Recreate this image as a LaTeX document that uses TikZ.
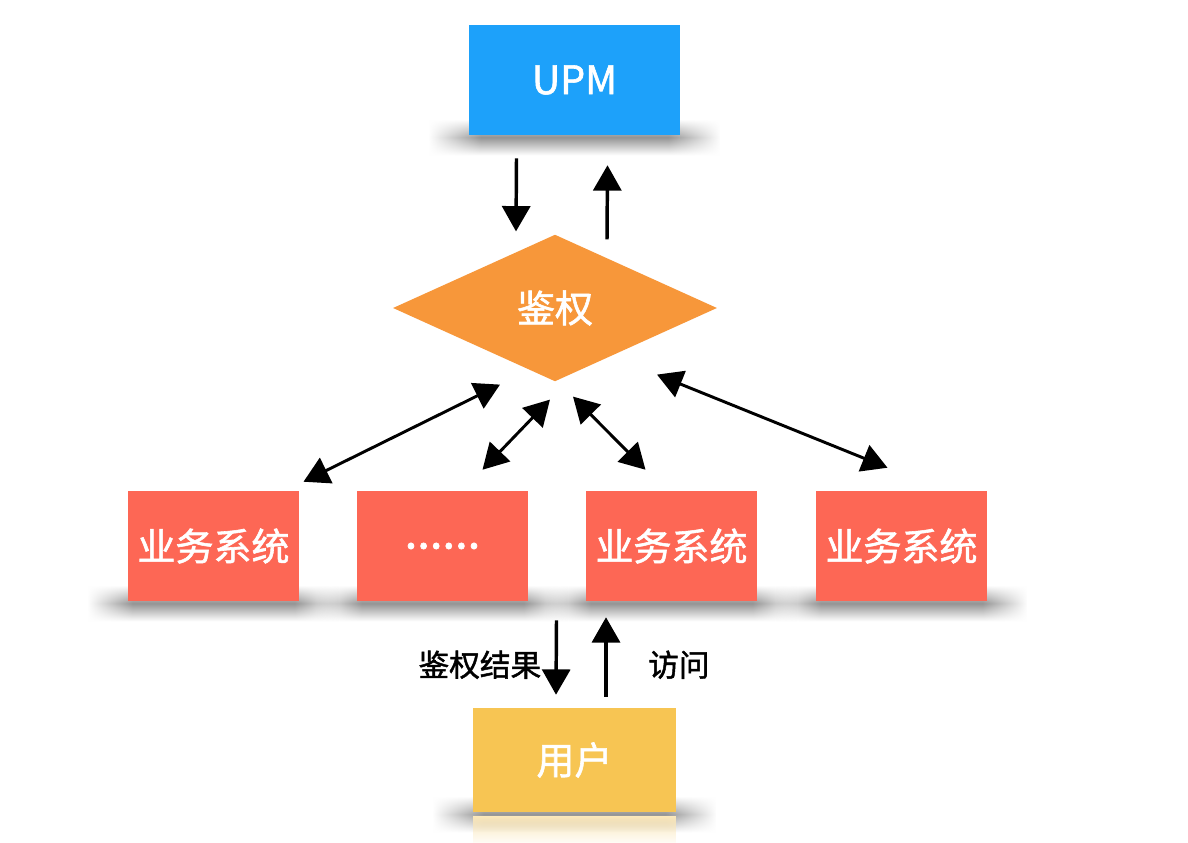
\documentclass[tikz,border=0pt]{standalone}
\usepackage{fontspec}
\setmainfont{Noto Sans CJK SC}
\newfontfamily\boxfont{Noto Sans CJK SC}[FakeBold=1.5]
\usepackage{tikz}
\usetikzlibrary{arrows.meta,shapes.geometric,backgrounds,fadings,calc}

\definecolor{upmblue}{HTML}{1DA1FA}
\definecolor{authorange}{HTML}{F7973A}
\definecolor{sysred}{HTML}{FD6755}
\definecolor{useryellow}{HTML}{F7C553}

%soft ends for the shadows
\pgfdeclarehorizontalshading{shadowends}{100bp}{color(0bp)=(black); color(25bp)=(black); color(34bp)=(white); color(66bp)=(white); color(75bp)=(black); color(100bp)=(black)}
\pgfdeclarefading{shadowends}{\pgfuseshading{shadowends}}

\begin{document}
\begin{tikzpicture}[x=0.75pt,y=-0.75pt, >={Triangle[length=19pt,width=21pt]}]
				\tikzstyle{box}=[rectangle, inner sep=0pt, text=white, font=\boxfont\fontsize{28.5}{30}\selectfont]
				\tikzstyle{sys}=[box, fill=sysred, minimum width=128pt, minimum height=82.5pt]
				\tikzstyle{arr}=[line width=2.6pt, black]
				\tikzstyle{darr}=[line width=2.2pt, black, <->]
				\tikzstyle{lbl}=[font=\boxfont\fontsize{23}{26}\selectfont, inner sep=0pt]
				\useasboundingbox (0,0) rectangle (1188,842);
				%Top
				\node[box, fill=upmblue, minimum width=158pt, minimum height=82.5pt, font=\boxfont\fontsize{29.5}{30}\selectfont](upm) at (574.5,80){UPM};
				\node[diamond, fill=authorange, inner sep=0pt, minimum width=243pt, minimum height=110pt,
					text=white, font=\boxfont\fontsize{28.5}{30}\selectfont](auth) at (555,308){鉴权};
				%Systems
				\node[sys](sys1) at (213.5,546){业务系统};
				\node[sys, font=\boxfont\fontsize{34}{30}\selectfont](sys2) at (442.5,546){......};
				\node[sys](sys3) at (671.5,546){业务系统};
				\node[sys](sys4) at (901.5,546){业务系统};
				%User
				\node[box, fill=useryellow, minimum width=152pt, minimum height=78pt](user) at (574.5,760){用户};
				%Shadows
				\begin{scope}[on background layer]
					\fill[white] (0,0) rectangle (1188,842);
					\foreach \n in {upm,sys1,sys2,sys3,sys4,user}
						\shade[top color=white, bottom color=white, middle color=black!42, path fading=shadowends]
							($(\n.south west)+(-40,-16)$) rectangle ($(\n.south east)+(40,20)$);
					\fill[useryellow!40, path fading=south] ($(user.south west)+(0,4)$) rectangle ($(user.south east)+(0,34)$);
				\end{scope}
				%UPM <-> auth
				\draw[arr, ->] ($(upm.south)+(-58,23)$) -- ($(auth.north)+(-39,-3)$);
				\draw[arr, ->] ($(auth.north)+(52,5)$) -- ($(upm.south)+(33,30)$);
				%auth <-> systems
				\draw[darr] ($(auth.south)+(-55,3)$) -- ($(sys1.north)+(90,-9)$);
				\draw[darr] ($(auth.south)+(-5,18)$) -- ($(sys2.north)+(40,-21)$);
				\draw[darr] ($(auth.south)+(18,15)$) -- ($(sys3.north)+(-26,-21)$);
				\draw[darr] ($(auth.south)+(102,-7)$) -- ($(sys4.north)+(-14,-23)$);
				%systems <-> user
				\draw[arr, ->] ($(sys3.south)+(-115,19)$) -- ($(user.north)+(-18.5,-13)$);
				\draw[arr, ->] ($(user.north)+(31.5,-11)$) -- ($(sys3.south)+(-65.5,16)$);
				\node[lbl, anchor=east](res) at ($(user.north)+(-33,-43)$){鉴权结果};
				\node[lbl, anchor=west](visit) at ($(user.north)+(73.5,-43)$){访问};
				\end{tikzpicture}
\end{document}
